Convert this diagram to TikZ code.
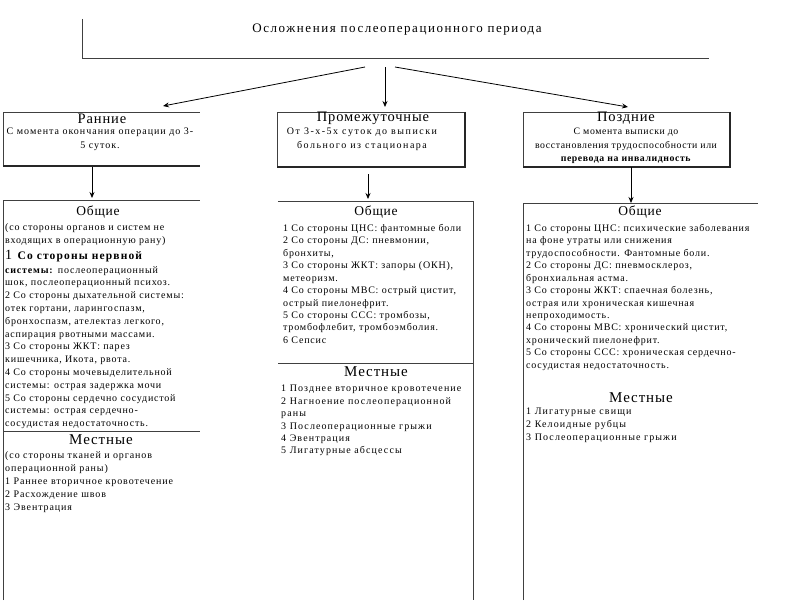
\documentclass[tikz,border=0pt]{standalone}
\usepackage{fontspec}
\setmainfont{Liberation Serif}[LetterSpace=6.0]
\usetikzlibrary{arrows.meta}
\newcommand{\bodyfont}[2]{\fontsize{10}{#1}\selectfont\addfontfeature{LetterSpace=#2}}
\begin{document}
\begin{tikzpicture}[x=1pt,y=-1pt,
  body/.style={anchor=north west, inner sep=0pt, align=left, font=\bodyfont{12.45}{8}},
  bodyL/.style={body, font=\bodyfont{12.8}{8}},
  sub/.style={anchor=north, inner sep=0pt, align=center},
  ttl/.style={inner sep=0pt, font=\fontsize{13.5}{15}\selectfont},
  hdr/.style={inner sep=0pt, font=\fontsize{14.5}{16}\selectfont},
  loc/.style={inner sep=0pt, font=\fontsize{15}{17}\selectfont},
  frame/.style={inner sep=0pt, draw=none},
  ln/.style={line width=0.6pt, draw=black!75},
  shadow/.style={line width=1.6pt, draw=black!85},
  arr/.style={-{Stealth[length=6pt,width=5pt]}, line width=0.8pt}
]
\useasboundingbox (0,0) rectangle (800,600);
\fill[white] (0,0) rectangle (800,600);

% top box
\node[frame, minimum width=627pt, minimum height=39pt] (topbox) at (395.5,38.5) {};
\draw[ln] (topbox.north west) |- (topbox.south east);
\node[inner sep=0pt, font=\fontsize{13}{15}\selectfont\addfontfeature{LetterSpace=12}] (toptitle) at (397,30) {Осложнения послеоперационного периода};

% header boxes
\node[frame, minimum width=197pt, minimum height=54pt] (early) at (101.5,139) {};
\node[frame, minimum width=188pt, minimum height=55pt] (mid) at (371,139.5) {};
\node[frame, minimum width=207pt, minimum height=55pt] (late) at (626.5,139.5) {};
\draw[ln] (early.south west) |- (early.north east);
\draw[shadow] (early.south west) -- (early.south east);
\draw[ln] (mid.south west) |- (mid.north east);
\draw[shadow] (mid.north east) |- (mid.south west);
\draw[ln] (late.south west) |- (late.north east);
\draw[shadow] (late.north east) |- (late.south west);

\node[hdr] (earlyT) at (102,119) {Ранние};
\node[sub, font=\fontsize{10}{13.5}\selectfont\addfontfeature{LetterSpace=10}] (earlyS) at (100,128) {С момента окончания операции до 3-\\5 суток.};
\node[hdr] (midT) at (373,118) {Промежуточные};
\node[sub, font=\fontsize{10}{13.5}\selectfont\addfontfeature{LetterSpace=15}] (midS) at (362,128) {От 3-х-5х суток до выписки\\больного из стационара};
\node[hdr] (lateT) at (626,118) {Поздние};
\node[sub, font=\fontsize{9.8}{13.5}\selectfont\addfontfeature{LetterSpace=6}] (lateS) at (626,128) {С момента выписки до\\восстановления трудоспособности или\\\textbf{перевода на инвалидность}};

% arrows from top
\coordinate (s1) at (365,67);
\coordinate (s2) at (385,67);
\coordinate (s3) at (395,67);
\coordinate (e1) at (163,106);
\coordinate (e2) at (385,107);
\coordinate (e3) at (628,107);
\draw[arr] (s1) -- (e1);
\draw[arr] (s2) -- (e2);
\draw[arr] (s3) -- (e3);

% lower frames
\node[frame, minimum width=197pt, minimum height=400pt] (genL) at (101.5,400) {};
\node[frame, minimum width=195pt, minimum height=399pt] (genM) at (375.5,400.5) {};
\node[frame, minimum width=235pt, minimum height=397pt] (genR) at (640.5,401.5) {};
\draw[ln] (genL.south west) |- (genL.north east);
\draw[ln] (genM.north west) -| (genM.south east);
\draw[ln] (genR.south west) |- (genR.north east);
\draw[ln] (3,431) -- (200,431);
\draw[ln] (278,363) -- (473,363);

% down arrows
\coordinate (d1s) at (92,167);
\coordinate (d1e) at (92,198);
\coordinate (d2s) at (368,174);
\coordinate (d2e) at (368,199);
\coordinate (d3s) at (631,167);
\coordinate (d3e) at (631,203);
\draw[arr] (d1s) -- (d1e);
\draw[arr] (d2s) -- (d2e);
\draw[arr] (d3s) -- (d3e);

% left column
\node[ttl] (lg) at (98,212) {Общие};
\node[bodyL, font=\bodyfont{13.1}{8}] (lgA) at (5,223) {(со стороны органов и систем не\\входящих в операционную рану)};
\node[inner sep=0pt, anchor=west, font=\fontsize{11.5}{13}\selectfont\addfontfeature{LetterSpace=10}] (lgN) at (5,256) {{\fontsize{14}{15}\selectfont 1} \textbf{Со стороны нервной}};
\node[bodyL] (lgB) at (5,266) {\textbf{системы:} послеоперационный\\шок, послеоперационный психоз.\\2 Со стороны дыхательной системы:\\отек гортани, ларингоспазм,\\бронхоспазм, ателектаз легкого,\\аспирация рвотными массами.\\3 Со стороны ЖКТ: парез\\кишечника, Икота, рвота.\\4 Со стороны мочевыделительной\\системы: острая задержка мочи\\5 Со стороны сердечно сосудистой\\системы: острая сердечно-\\сосудистая недостаточность.};
\node[loc] (ll) at (101,440) {Местные};
\node[body, font=\bodyfont{13}{9}] (llA) at (5,451) {(со стороны тканей и органов\\операционной раны)\\1 Раннее вторичное кровотечение\\2 Расхождение швов\\3 Эвентрация};

% middle column
\node[ttl] (mg) at (376,212) {Общие};
\node[body] (mgA) at (283,224) {1 Со стороны ЦНС: фантомные боли\\2 Со стороны ДС: пневмонии,\\бронхиты,\\3 Со стороны ЖКТ: запоры (ОКН),\\метеоризм.\\4 Со стороны МВС: острый цистит,\\острый пиелонефрит.\\5 Со стороны ССС: тромбозы,\\тромбофлебит, тромбоэмболия.\\6 Сепсис};
\node[loc] (ml) at (376,372) {Местные};
\node[body, font=\bodyfont{12.4}{11}] (mlA) at (281,385) {1 Позднее вторичное кровотечение\\2 Нагноение послеоперационной\\раны\\3 Послеоперационные грыжи\\4 Эвентрация\\5 Лигатурные абсцессы};

% right column
\node[ttl] (rg) at (640,212) {Общие};
\node[body] (rgA) at (526,224) {1 Со стороны ЦНС: психические заболевания\\на фоне утраты или снижения\\трудоспособности. Фантомные боли.\\2 Со стороны ДС: пневмосклероз,\\бронхиальная астма.\\3 Со стороны ЖКТ: спаечная болезнь,\\острая или хроническая кишечная\\непроходимость.\\4 Со стороны МВС: хронический цистит,\\хронический пиелонефрит.\\5 Со стороны ССС: хроническая сердечно-\\сосудистая недостаточность.};
\node[loc] (rl) at (641,398) {Местные};
\node[body, font=\bodyfont{13}{11}] (rlA) at (526,408) {1 Лигатурные свищи\\2 Келоидные рубцы\\3 Послеоперационные грыжи};
\end{tikzpicture}
\end{document}
